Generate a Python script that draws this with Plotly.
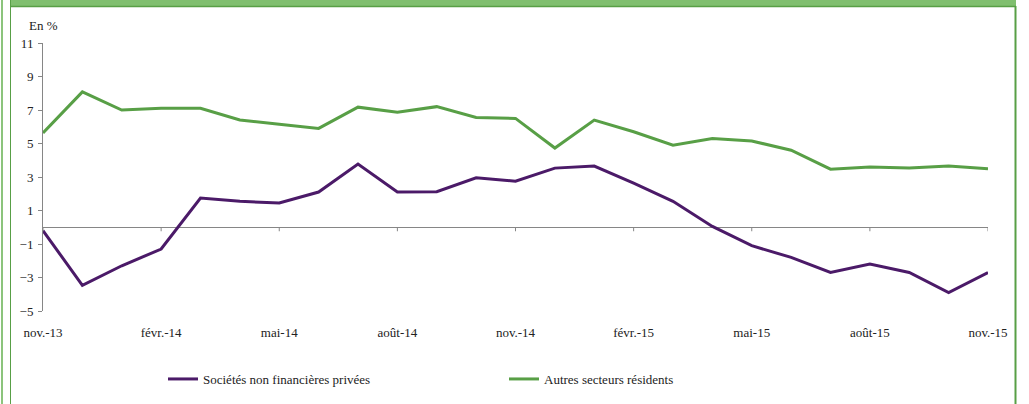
import plotly.graph_objects as go

months = ["nov.-13", "déc.-13", "janv.-14", "févr.-14", "mars-14", "avr.-14", "mai-14", "juin-14",
          "juil.-14", "août-14", "sept.-14", "oct.-14", "nov.-14", "déc.-14", "janv.-15", "févr.-15",
          "mars-15", "avr.-15", "mai-15", "juin-15", "juil.-15", "août-15", "sept.-15", "oct.-15", "nov.-15"]

snf_privees = [-0.2, -3.47, -2.3, -1.3, 1.74, 1.55, 1.45, 2.1, 3.77, 2.1, 2.12, 2.95, 2.75,
               3.53, 3.65, 2.63, 1.55, 0.05, -1.1, -1.8, -2.7, -2.2, -2.7, -3.9, -2.7]
autres_secteurs = [5.63, 8.08, 7.0, 7.1, 7.1, 6.4, 6.15, 5.9, 7.17, 6.87, 7.2, 6.55, 6.5,
                   4.73, 6.4, 5.7, 4.9, 5.3, 5.15, 4.6, 3.47, 3.6, 3.53, 3.65, 3.5]

tick_idx = [0, 3, 6, 9, 12, 15, 18, 21, 24]
tick_labels = ["nov.-13", "févr.-14", "mai-14", "août-14", "nov.-14", "févr.-15", "mai-15", "août-15", "nov.-15"]
y_ticks = [-5, -3, -1, 1, 3, 5, 7, 9, 11]

PURPLE = "#4b1a68"
GREEN = "#589f46"
LIGHT_GREEN = "#80bf6f"
AXIS = "#868686"
FONT = "Liberation Serif"

W, H = 1029, 404
ML, MR, MT, MB = 43, 41, 43, 93
PW, PH = W - ML - MR, H - MT - MB


def px(x):
    return (x - ML) / PW


def py(y):
    return (H - MB - y) / PH


xs = list(range(len(months)))

fig = go.Figure()
fig.add_trace(go.Scatter(x=xs, y=snf_privees, mode="lines", name="Sociétés non financières privées",
                         line=dict(color=PURPLE, width=3)))
fig.add_trace(go.Scatter(x=xs, y=autres_secteurs, mode="lines", name="Autres secteurs résidents",
                         line=dict(color=GREEN, width=3)))

shapes = []
tick_len = 4 / PH * 16
for t in tick_idx:
    shapes.append(dict(type="line", xref="x", yref="y", x0=t, x1=t, y0=0, y1=-tick_len,
                       line=dict(color=AXIS, width=1)))
shapes.append(dict(type="rect", xref="paper", yref="paper", x0=px(11), x1=px(1016), y0=py(6), y1=py(-1),
                   fillcolor=LIGHT_GREEN, line=dict(width=0), layer="above"))
shapes.append(dict(type="line", xref="paper", yref="paper", x0=px(11), x1=px(1016), y0=py(6.5), y1=py(6.5),
                   line=dict(color=GREEN, width=1.5)))
shapes.append(dict(type="line", xref="paper", yref="paper", x0=px(2), x1=px(2), y0=py(0), y1=py(H + 1),
                   line=dict(color="#8cc47c", width=2)))
shapes.append(dict(type="line", xref="paper", yref="paper", x0=px(10.5), x1=px(10.5), y0=py(0), y1=py(H + 1),
                   line=dict(color=GREEN, width=1)))
shapes.append(dict(type="line", xref="paper", yref="paper", x0=px(1015.5), x1=px(1015.5), y0=py(6), y1=py(H + 1),
                   line=dict(color=GREEN, width=2)))

fig.update_layout(
    width=W, height=H,
    margin=dict(l=ML, r=MR, t=MT, b=MB, pad=0, autoexpand=False),
    paper_bgcolor="white", plot_bgcolor="white",
    font=dict(family=FONT, size=13, color="#222222"),
    showlegend=True,
    legend=dict(orientation="h", x=px(163), y=py(364), xanchor="left", yanchor="top",
                entrywidth=296, entrywidthmode="pixels", font=dict(family=FONT, size=13),
                bgcolor="rgba(0,0,0,0)"),
    xaxis=dict(range=[0, 24], tickvals=tick_idx, ticktext=tick_labels, showgrid=False, zeroline=False,
               showline=False, ticks="", ticklabelstandoff=12, fixedrange=True, automargin=False),
    yaxis=dict(range=[-5, 11], tickvals=y_ticks, showgrid=False, zeroline=True, zerolinecolor=AXIS,
               zerolinewidth=1, showline=True, linecolor=AXIS, linewidth=1, ticks="outside", ticklen=4,
               tickcolor=AXIS, ticklabelstandoff=2, fixedrange=True, automargin=False),
    shapes=shapes,
    annotations=[dict(text="En %", xref="paper", yref="paper", x=px(27), y=py(26), xanchor="left",
                      yanchor="middle", showarrow=False, font=dict(family=FONT, size=13))],
)

fig.write_html("out.html", config={"displayModeBar": False},
               post_script="document.body.style.margin='0px';")
